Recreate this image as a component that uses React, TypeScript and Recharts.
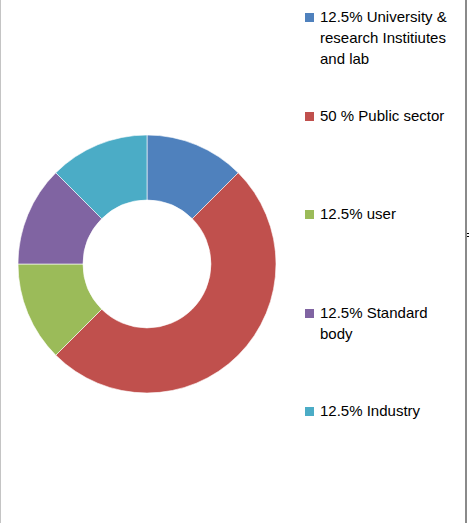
import { Cell, Legend, Pie, PieChart } from "recharts";

const labels = [
  "12.5% University & research Institiutes and lab",
  "50 % Public sector",
  "12.5% user",
  "12.5% Standard body",
  "12.5% Industry",
];
const shares = [12.5, 50, 12.5, 12.5, 12.5];
const colors = ["#4F81BD", "#C0504D", "#9BBB59", "#8064A2", "#4BACC6"];

const data = labels.map((name, i) => ({ name, value: shares[i] }));

// keep the slice order (recharts sorts legend items by default)
function LegendList() {
  return (
    <div style={{ width: 150 }}>
      {data.map((entry, i) => (
        <div
          key={i}
          style={{ display: "flex", alignItems: "flex-start", height: 98.5 }}
        >
          <span
            style={{
              width: 9,
              height: 9,
              marginTop: 7,
              marginRight: 6,
              flexShrink: 0,
              background: colors[i],
            }}
          />
          <span
            style={{
              fontFamily: "'Liberation Sans', Arial, sans-serif",
              fontSize: 15,
              lineHeight: "21px",
              color: "#000",
              width: 138,
            }}
          >
            {entry.name}
          </span>
        </div>
      ))}
    </div>
  );
}

export default function App() {
  return (
    <div
      style={{
        position: "absolute",
        left: 0,
        top: 0,
        width: 469,
        height: 523,
        background: "#fff",
        overflow: "hidden",
      }}
    >
      <div
        style={{
          position: "absolute",
          left: 0,
          top: 0,
          width: 1,
          height: 523,
          background: "#c4c4c4",
        }}
      />
      <div
        style={{
          position: "absolute",
          left: 465,
          top: 0,
          width: 2,
          height: 523,
          background: "#8a8a8a",
        }}
      />
      <div
        style={{
          position: "absolute",
          left: 467,
          top: 233,
          width: 2,
          height: 4,
          borderTop: "1px solid #000",
          borderBottom: "1px solid #000",
          boxSizing: "border-box",
        }}
      />
      <PieChart
        width={469}
        height={523}
        margin={{ top: 0, right: 0, bottom: 0, left: 0 }}
      >
        <Pie
          data={data}
          dataKey="value"
          nameKey="name"
          cx={147}
          cy={264}
          innerRadius={64}
          outerRadius={129}
          startAngle={90}
          endAngle={-270}
          stroke="#fff"
          strokeWidth={0.6}
          isAnimationActive={false}
        >
          {data.map((_, i) => (
            <Cell key={i} fill={colors[i]} />
          ))}
        </Pie>
        <Legend
          layout="vertical"
          content={<LegendList />}
          wrapperStyle={{ position: "absolute", left: 305, top: 6 }}
        />
      </PieChart>
    </div>
  );
}
